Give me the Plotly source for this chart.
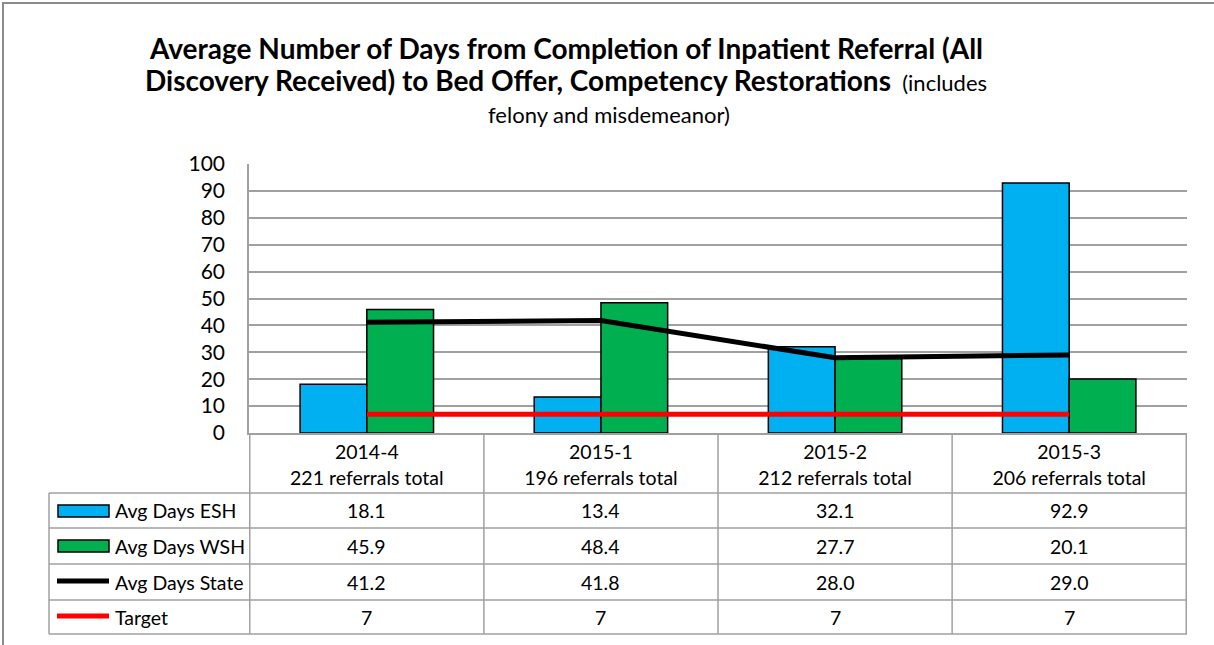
import plotly.graph_objects as go

# data
periods = ["2014-4", "2015-1", "2015-2", "2015-3"]
referrals = [221, 196, 212, 206]
esh = [18.1, 13.4, 32.1, 92.9]
wsh = [45.9, 48.4, 27.7, 20.1]
state = [41.2, 41.8, 28.0, 29.0]
target = [7, 7, 7, 7]

row_names = ["Avg Days ESH", "Avg Days WSH", "Avg Days State", "Target"]
row_values = [
    ["%.1f" % v for v in esh],
    ["%.1f" % v for v in wsh],
    ["%.1f" % v for v in state],
    ["%d" % v for v in target],
]

BLUE = "#00B0F0"
GREEN = "#00B050"
GRID = "#A0A0A0"
FONT = "Lato"
TABLE_SIZE = 19.5

W, H = 1214, 645
L, R, T, B = 249, 1187, 164, 433  # plot area in pixels


def px_x(p):
    return (p - L) / (R - L)


def px_y(p):
    return (B - p) / (B - T)


cats = [p + "<br>" + str(n) + " referrals total" for p, n in zip(periods, referrals)]

fig = go.Figure()
fig.add_trace(go.Bar(x=cats, y=esh, name="Avg Days ESH", marker=dict(color=BLUE, line=dict(color="black", width=1.5))))
fig.add_trace(go.Bar(x=cats, y=wsh, name="Avg Days WSH", marker=dict(color=GREEN, line=dict(color="black", width=1.5))))
fig.add_trace(go.Scatter(x=cats, y=state, mode="lines", name="Avg Days State", line=dict(color="black", width=5)))
fig.add_trace(go.Scatter(x=cats, y=target, mode="lines", name="Target", line=dict(color="#FF0000", width=5)))

shapes = []
# outer frame
shapes.append(dict(type="rect", xref="paper", yref="paper", x0=px_x(3), x1=px_x(1230),
                   y0=px_y(3), y1=px_y(660), line=dict(color="#8C8C8C", width=2)))
# data table grid
row_lines = [493, 528, 564, 600, 634]
for yy in row_lines:
    shapes.append(dict(type="line", xref="paper", yref="paper", x0=px_x(49), x1=px_x(R),
                       y0=px_y(yy), y1=px_y(yy), line=dict(color=GRID, width=1.5)))
shapes.append(dict(type="line", xref="paper", yref="paper", x0=px_x(49), x1=px_x(49),
                   y0=px_y(493), y1=px_y(634), line=dict(color=GRID, width=1.5)))
for k in range(len(periods) + 1):
    shapes.append(dict(type="line", xref="x", yref="paper", x0=k - 0.5, x1=k - 0.5,
                       y0=px_y(433), y1=px_y(634), line=dict(color=GRID, width=1.5)))

# legend keys in the table
shapes.append(dict(type="rect", xref="paper", yref="paper", x0=px_x(58), x1=px_x(109),
                   y0=px_y(505), y1=px_y(517), fillcolor=BLUE, line=dict(color="black", width=1.5)))
shapes.append(dict(type="rect", xref="paper", yref="paper", x0=px_x(58), x1=px_x(109),
                   y0=px_y(540), y1=px_y(552), fillcolor=GREEN, line=dict(color="black", width=1.5)))
shapes.append(dict(type="line", xref="paper", yref="paper", x0=px_x(57), x1=px_x(109),
                   y0=px_y(581), y1=px_y(581), line=dict(color="black", width=5)))
shapes.append(dict(type="line", xref="paper", yref="paper", x0=px_x(57), x1=px_x(109),
                   y0=px_y(616), y1=px_y(616), line=dict(color="#FF0000", width=5)))

annotations = []
row_mid = [510.5, 546, 582, 617]
for i, name in enumerate(row_names):
    annotations.append(dict(text=name, xref="paper", yref="paper", x=px_x(113), y=px_y(row_mid[i]),
                            xanchor="left", yanchor="middle", showarrow=False,
                            font=dict(family=FONT, size=TABLE_SIZE, color="black")))
    for j, c in enumerate(cats):
        annotations.append(dict(text=row_values[i][j], xref="x", yref="paper", x=c, y=px_y(row_mid[i]),
                                xanchor="center", yanchor="middle", showarrow=False,
                                font=dict(family=FONT, size=TABLE_SIZE, color="black")))

# title
annotations.append(dict(text="<b>Average Number of Days from Completion of Inpatient Referral (All</b>",
                        xref="paper", yref="paper", x=px_x(566), y=px_y(48), xanchor="center", yanchor="middle",
                        showarrow=False, font=dict(family=FONT, size=28, color="black")))
annotations.append(dict(text="<b>Discovery Received) to Bed Offer, Competency Restorations</b>"
                             "<span style='font-size:22px'>  (includes</span>",
                        xref="paper", yref="paper", x=px_x(566), y=px_y(80), xanchor="center", yanchor="middle",
                        showarrow=False, font=dict(family=FONT, size=28, color="black")))
annotations.append(dict(text="felony and misdemeanor)",
                        xref="paper", yref="paper", x=px_x(609), y=px_y(114), xanchor="center", yanchor="middle",
                        showarrow=False, font=dict(family=FONT, size=22, color="black")))

fig.update_layout(
    width=W, height=H,
    margin=dict(l=L, r=W - R, t=T, b=H - B),
    paper_bgcolor="white", plot_bgcolor="white",
    barmode="group", bargap=0.43, bargroupgap=0,
    showlegend=False,
    shapes=shapes, annotations=annotations,
    font=dict(family=FONT, color="black"),
)
fig.update_xaxes(showline=True, linecolor=GRID, linewidth=1.5, showgrid=False,
                 ticks="", tickfont=dict(family=FONT, size=TABLE_SIZE, color="black"), ticklabelstandoff=1)
fig.update_yaxes(range=[0, 100], dtick=10, showline=True, linecolor=GRID, linewidth=1.5,
                 gridcolor=GRID, gridwidth=1.5, zeroline=False, ticks="",
                 tickfont=dict(family=FONT, size=21, color="black"), ticklabelstandoff=18)

# page has a default 8px body margin; drop it so the figure sits at the top-left corner
fig.write_html("out.html", config={"displayModeBar": False},
               post_script="document.body.style.margin='0';")
